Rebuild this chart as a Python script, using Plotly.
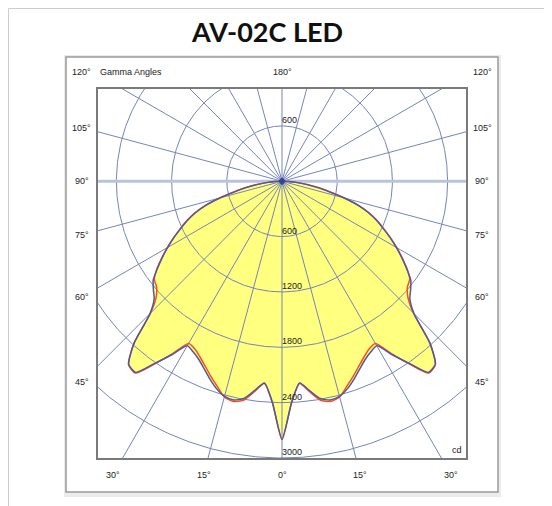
import numpy as np
import plotly.graph_objects as go

# ---------------- data ----------------
gamma_deg = [0, 2.5, 5, 7.5, 10, 12.5, 15, 17.5, 20, 22.5, 25, 27.5, 30, 32.5, 35, 37.5,
             40, 42.5, 45, 47.5, 50, 52.5, 55, 57.5, 60, 62.5, 65, 67.5, 70, 72.5, 75,
             77.5, 80, 82.5, 85, 87.5, 90]
c0_c180_cd = [2800, 2400, 2195, 2290, 2392, 2428, 2415, 2360, 2285, 2205, 2135, 2088, 2060,
              2230, 2410, 2612, 2592, 2380, 2030, 1885, 1825, 1765, 1655, 1545, 1435, 1325,
              1215, 1115, 1005, 870, 700, 530, 400, 280, 170, 75, 0]
c90_c270_cd = [2800, 2400, 2200, 2300, 2410, 2445, 2420, 2335, 2255, 2175, 2105, 2050, 2030,
               2220, 2420, 2620, 2595, 2380, 2020, 1855, 1780, 1750, 1660, 1550, 1440, 1330,
               1222, 1120, 1010, 875, 705, 535, 405, 285, 172, 77, 0]
grid_cd = [600, 1200, 1800, 2400, 3000]
grid_rays_deg = list(range(0, 360, 15))
side_labels = [45, 60, 75, 90, 105]
bottom_labels = [30, 15, 0, 15, 30]
bottom_signed = [-30, -15, 0, 15, 30]

# ---------------- geometry helpers ----------------
W, H = 552, 506
OFF = 8  # page offset of the figure inside the browser window
ML, MT = 98 - OFF, 89 - OFF
PW, PH = 368, 369
MR, MB = W - ML - PW, H - MT - PH
XR = [-2000, 2000]
YR = [-3000, 1000]
CD_PER_PX = (XR[1] - XR[0]) / PW


def polar_xy(g, r, side):
    g = np.radians(np.asarray(g, dtype=float))
    r = np.asarray(r, dtype=float)
    return side * r * np.sin(g), -r * np.cos(g)


def curve(values):
    xl, yl = polar_xy(gamma_deg[::-1], values[::-1], -1)
    xr, yr = polar_xy(gamma_deg[1:], values[1:], 1)
    return np.concatenate([xl, xr]), np.concatenate([yl, yr])


def px_to_paper(px, py):
    # px, py are screen pixels of the reference picture
    return (px - OFF - ML) / PW, 1 - (py - OFF - MT) / PH


def cd_to_paper(x, y):
    return (x - XR[0]) / (XR[1] - XR[0]), (y - YR[0]) / (YR[1] - YR[0])


fig = go.Figure()

# yellow fill (envelope of both planes)
env = np.maximum(c0_c180_cd, c90_c270_cd)
fx, fy = curve(env)
fig.add_trace(go.Scatter(x=fx, y=fy, mode="lines", fill="toself", fillcolor="#ffff80",
                         line=dict(color="rgba(0,0,0,0)", width=0, shape="spline", smoothing=0.6),
                         hoverinfo="skip"))

GRID = "#7585ba"
# circles
cx, cy = [], []
t = np.linspace(0, 2 * np.pi, 721)
for r in grid_cd:
    cx += list(r * np.cos(t)) + [None]
    cy += list(r * np.sin(t)) + [None]
fig.add_trace(go.Scatter(x=cx, y=cy, mode="lines", line=dict(color=GRID, width=1),
                         hoverinfo="skip"))

# rays
rx, ry = [], []
for a in grid_rays_deg:
    if a in (90, 270):
        continue
    x1, y1 = polar_xy(a, 6000, 1)
    rx += [0, float(x1), None]
    ry += [0, float(y1), None]
fig.add_trace(go.Scatter(x=rx, y=ry, mode="lines", line=dict(color=GRID, width=1),
                         hoverinfo="skip"))

# horizontal 90 degree line (thick, light)
fig.add_trace(go.Scatter(x=[XR[0], XR[1]], y=[0, 0], mode="lines",
                         line=dict(color="#b9c3de", width=3), hoverinfo="skip"))

# curves
x2, y2 = curve(c90_c270_cd)
fig.add_trace(go.Scatter(x=x2, y=y2, mode="lines",
                         line=dict(color="#ff4a2a", width=1.5, shape="spline", smoothing=0.6),
                         hoverinfo="skip"))
x1c, y1c = curve(c0_c180_cd)
fig.add_trace(go.Scatter(x=x1c, y=y1c, mode="lines",
                         line=dict(color="#4b5b9e", width=1.5, shape="spline", smoothing=0.6),
                         hoverinfo="skip"))

# centre mark
fig.add_trace(go.Scatter(x=[0], y=[0], mode="markers",
                         marker=dict(color="#34468a", size=6, symbol="diamond"), hoverinfo="skip"))

LBL = dict(family="Liberation Sans, Arial, sans-serif", size=9, color="#222222")
ann = []

# radial labels
for r in grid_cd:
    ann.append(dict(x=0, y=-r, xref="x", yref="y", text=str(r), showarrow=False,
                    xanchor="left", yanchor="bottom", xshift=-2, yshift=-1, font=LBL))
ann.append(dict(x=0, y=600, xref="x", yref="y", text="600", showarrow=False,
                xanchor="left", yanchor="bottom", xshift=-2, yshift=-1, font=LBL))

# side angle labels
side_dx = 200 * CD_PER_PX
for g in side_labels:
    dy = side_dx / np.tan(np.radians(g)) if g != 90 else 0.0
    for s in (-1, 1):
        px_, py_ = cd_to_paper(s * side_dx, -dy)
        ann.append(dict(x=px_, y=py_, xref="paper", yref="paper", text=f"{g}°",
                        showarrow=False, xanchor="center", yanchor="middle", font=LBL))

# bottom angle labels
bot_dy = 292.6 * CD_PER_PX
for lab, g in zip(bottom_labels, bottom_signed):
    px_, py_ = cd_to_paper(bot_dy * np.tan(np.radians(g)), -bot_dy)
    ann.append(dict(x=px_, y=py_, xref="paper", yref="paper", text=f"{lab}°",
                    showarrow=False, xanchor="center", yanchor="middle", font=LBL))

# top row
top_dy = 109.4 * CD_PER_PX
for s in (-1, 1):
    px_, py_ = cd_to_paper(s * side_dx, top_dy)
    ann.append(dict(x=px_, y=py_, xref="paper", yref="paper", text="120°",
                    showarrow=False, xanchor="center", yanchor="middle", font=LBL))
px_, py_ = cd_to_paper(0, top_dy)
ann.append(dict(x=px_, y=py_, xref="paper", yref="paper", text="180°",
                showarrow=False, xanchor="center", yanchor="middle", font=LBL))
gx, gy = px_to_paper(98, 72.3)
ann.append(dict(x=gx, y=gy, xref="paper", yref="paper", text="Gamma Angles",
                showarrow=False, xanchor="left", yanchor="middle", font=LBL))
cdx, cdy = px_to_paper(464, 450)
ann.append(dict(x=cdx, y=cdy, xref="paper", yref="paper", text="cd",
                showarrow=False, xanchor="right", yanchor="middle", font=LBL))

# title
tx, ty = px_to_paper(266.7, 31)
ann.append(dict(x=tx, y=ty, xref="paper", yref="paper", text="<b>AV-02C LED</b>",
                showarrow=False, xanchor="center", yanchor="middle",
                font=dict(family="Lato, Arial, sans-serif", size=27, color="#111111",
                          weight=900)))

# frames
shapes = []
def rect_px(x0, y0, x1, y1, **kw):
    a0, b0 = px_to_paper(x0, y0)
    a1, b1 = px_to_paper(x1, y1)
    d = dict(type="rect", xref="paper", yref="paper", x0=a0, y0=b0, x1=a1, y1=b1, layer="below")
    d.update(kw)
    return d

shapes.append(rect_px(8.5, 8.5, 570, 530, line=dict(color="#cccccc", width=1), fillcolor="white"))
shapes.append(rect_px(64, 55, 501, 497, line=dict(width=0), fillcolor="#ececec"))
shapes.append(rect_px(66, 57, 498, 492, line=dict(color="#9a9a9a", width=1.5), fillcolor="white"))

fig.update_layout(
    width=W, height=H, margin=dict(l=ML, r=MR, t=MT, b=MB),
    paper_bgcolor="white", plot_bgcolor="rgba(0,0,0,0)",
    showlegend=False, annotations=ann, shapes=shapes,
    xaxis=dict(range=XR, showgrid=False, zeroline=False, showticklabels=False, ticks="",
               showline=True, mirror=True, linecolor="#7a7a7a", linewidth=1.5, fixedrange=True),
    yaxis=dict(range=YR, showgrid=False, zeroline=False, showticklabels=False, ticks="",
               showline=True, mirror=True, linecolor="#7a7a7a", linewidth=1.5, fixedrange=True),
)

fig.write_html("out.html")
